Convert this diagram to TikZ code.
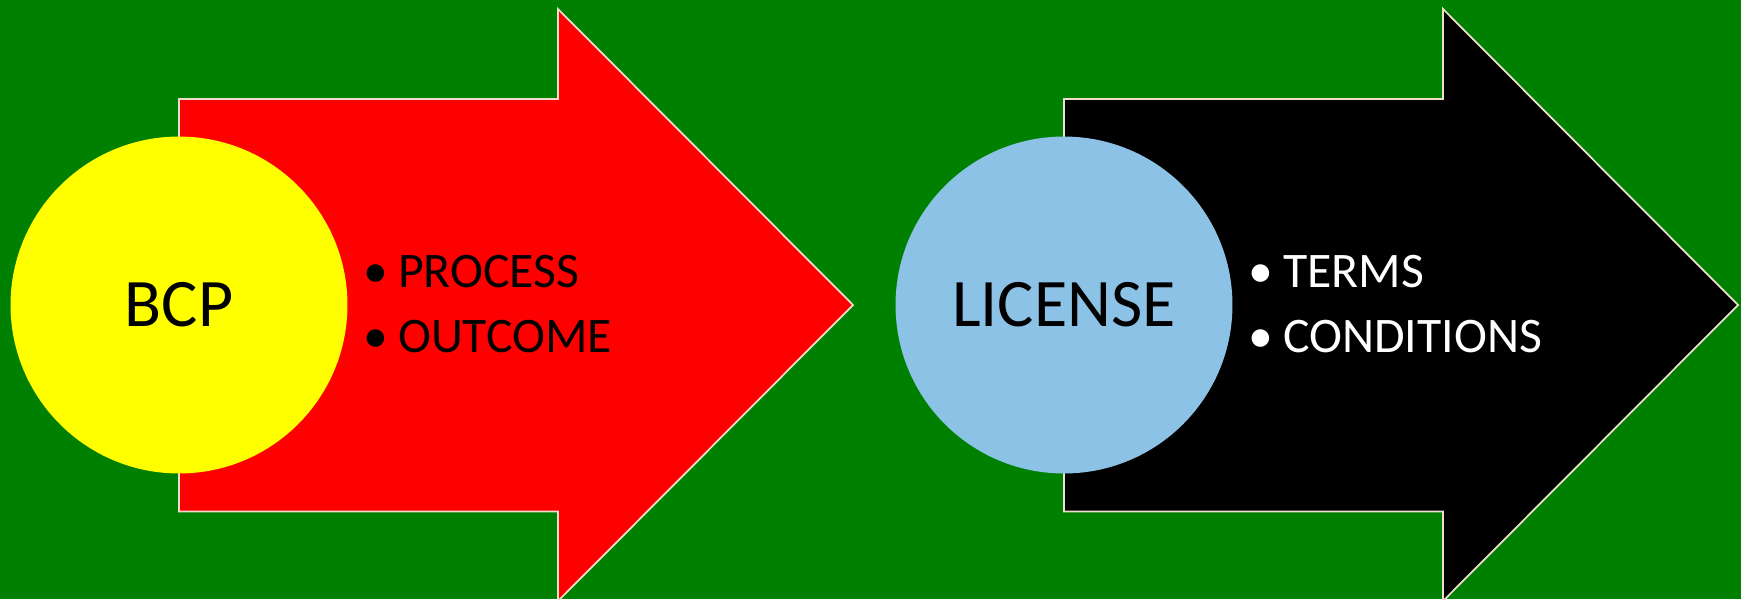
\documentclass[tikz,border=0pt]{standalone}
\usepackage{fontspec}
\setmainfont{Carlito}
\usepackage{xcolor}
\usetikzlibrary{positioning}

\definecolor{bggreen}{RGB}{0,128,0}
\definecolor{edgebeige}{RGB}{238,222,205}
\definecolor{skyblue}{RGB}{139,194,230}
\definecolor{sunyellow}{RGB}{255,255,0}

\newcommand{\bul}{\makebox[0.7em][l]{\textbullet}}

\begin{document}
\begin{tikzpicture}[x=0.02cm, y=-0.02cm,
        shaft/.style={draw=edgebeige, line width=1pt, line join=miter},
        disc/.style={circle, inner sep=0pt, minimum size=6.74cm, font=\fontsize{38.7}{46}\selectfont},
        item/.style={anchor=base west, inner sep=0pt, font=\fontsize{28.3}{34}\selectfont}]

        % background
        \fill[bggreen] (0,0) rectangle (1741,599);
        \useasboundingbox (0,0) rectangle (1741,599);

        % arrows
        \filldraw[shaft, fill=red]
        (179,99) -- (558,99) -- (558,9) -- (853,305) -- (558,601) -- (558,511.5) -- (179,511.5) -- cycle;
        \filldraw[shaft, fill=black]
        (1064,99) -- (1443,99) -- (1443,9) -- (1738,305) -- (1443,601) -- (1443,511.5) -- (1064,511.5) -- cycle;

        % circles
        \node[disc, fill=sunyellow] (bcp) at (179,305) {BCP};
        \node[disc, fill=skyblue] (license) at (1064,305) {LICENSE};

        % bullet lists
        \node[item] (process) at (363,287) {\bul PROCESS};
        \node[item] (outcome) at (363,352) {\bul OUTCOME};
        \node[item, text=white] (terms) at (1248,287) {\bul TERMS};
        \node[item, text=white] (conditions) at (1248,352) {\bul CONDITIONS};

\end{tikzpicture}
\end{document}
